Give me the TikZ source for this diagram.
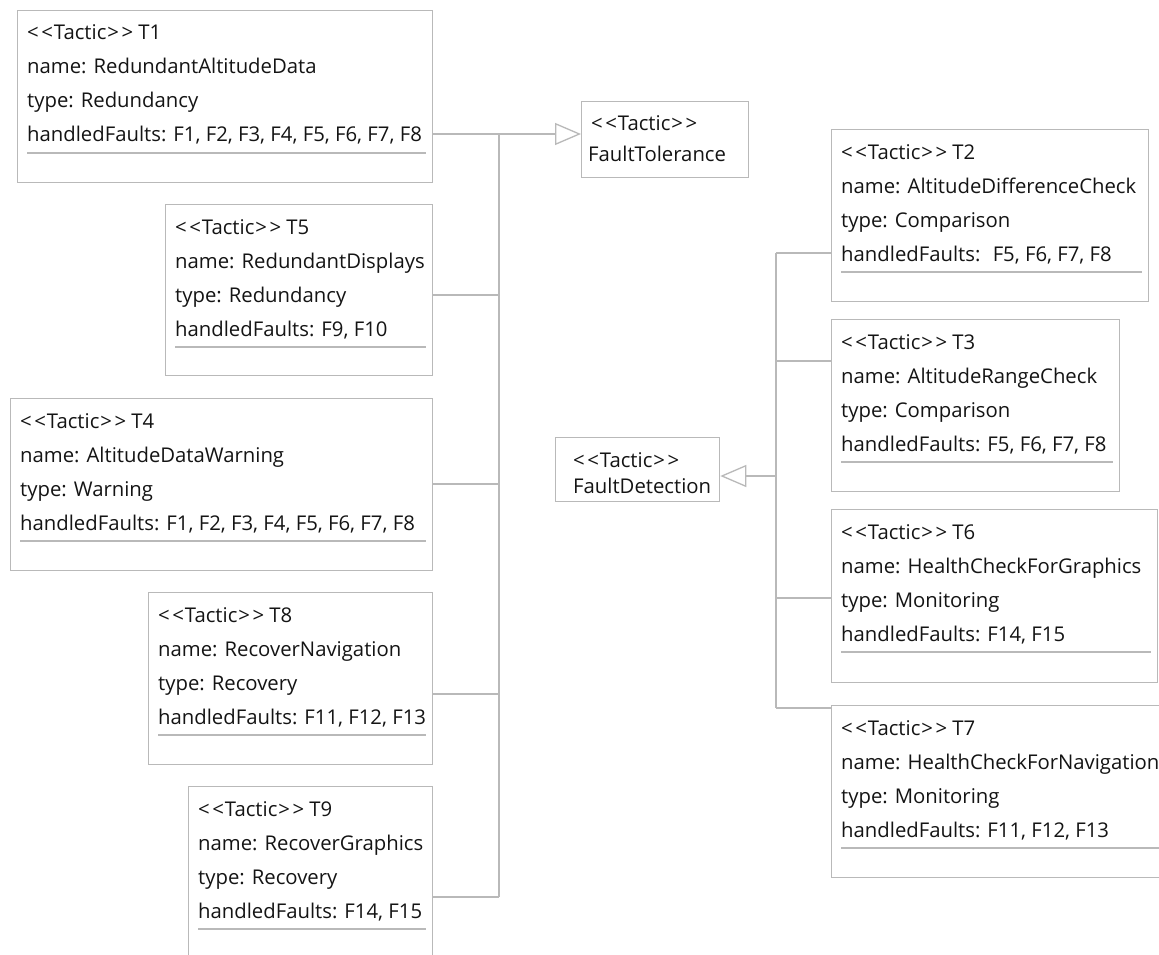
\documentclass[tikz,border=0pt]{standalone}
\usepackage{fontspec}
\setmainfont{Open Sans}
\usetikzlibrary{arrows.meta,calc}
\definecolor{edge}{RGB}{185,185,185}
\definecolor{ink}{RGB}{20,20,20}
\newcommand{\stereo}{<\kern2.5pt<\kern1pt Tactic\kern1pt>\kern2.5pt>}
\tikzset{
  box/.style={draw=edge, line width=1.3pt, rectangle, inner sep=0pt, anchor=north west, fill=white},
  txt/.style={anchor=base west, inner sep=0pt, text=ink, font=\fontsize{20.3}{22}\selectfont},
  conn/.style={draw=edge, line width=1.3pt},
  sepline/.style={draw=edge, line width=1.1pt},
  gen/.style={conn, -{Triangle[open, length=26pt, width=22pt]}},
}
% \tacbox{name}{x1}{y1}{x2}{y2}{line1}{line2}{line3}{line4}
\newcommand{\tacbox}[9]{%
  \node[box, minimum width=#4pt-#2pt, minimum height=#5pt-#3pt] (#1) at (#2,#3) {};
  \node[txt] (#1a) at ($(#1.north west)+(10,30)$) {#6};
  \node[txt] (#1b) at ($(#1.north west)+(10,64)$) {#7};
  \node[txt] (#1c) at ($(#1.north west)+(10,98)$) {#8};
  \node[txt] (#1d) at ($(#1.north west)+(10,132)$) {#9};
  \draw[sepline] ($(#1.north west)+(10,143)$) -- ($(#1.north east)+(-7,143)$);
}
\begin{document}
\begin{tikzpicture}[x=1pt, y=-1pt]
\useasboundingbox (0,0) rectangle (1159,955);
\fill[white] (0,0) rectangle (1159,955);

% left column
\tacbox{T1}{17}{10}{432}{182}{\stereo{} T1}{name: RedundantAltitudeData}{type: Redundancy}{handledFaults: F1, F2, F3, F4, F5, F6, F7, F8}
\tacbox{T5}{165}{204}{432}{375}{\stereo{} T5}{name: RedundantDisplays}{type: Redundancy}{handledFaults: F9, F10}
\tacbox{T4}{10}{398}{432}{570}{\stereo{} T4}{name: AltitudeDataWarning}{type: Warning}{handledFaults: F1, F2, F3, F4, F5, F6, F7, F8}
\tacbox{T8}{148}{592}{432}{764}{\stereo{} T8}{name: RecoverNavigation}{type: Recovery}{handledFaults: F11, F12, F13}
\tacbox{T9}{188}{786}{432}{958}{\stereo{} T9}{name: RecoverGraphics}{type: Recovery}{handledFaults: F14, F15}

% right column
\tacbox{T2}{831}{129}{1148}{301}{\stereo{} T2}{name: AltitudeDifferenceCheck}{type: Comparison}{handledFaults: \ F5, F6, F7, F8}
\tacbox{T3}{831}{319}{1119}{491}{\stereo{} T3}{name: AltitudeRangeCheck}{type: Comparison}{handledFaults: F5, F6, F7, F8}
\tacbox{T6}{831}{509}{1157}{682}{\stereo{} T6}{name: HealthCheckForGraphics}{type: Monitoring}{handledFaults: F14, F15}
\tacbox{T7}{831}{705}{1185}{877}{\stereo{} T7}{name: HealthCheckForNavigation}{type: Monitoring}{handledFaults: F11, F12, F13}

% parent tactics
\node[box, minimum width=167pt, minimum height=76pt] (FT) at (581,101) {};
\node[txt] (FTa) at ($(FT.north west)+(10,30)$) {\stereo};
\node[txt] (FTb) at ($(FT.north west)+(7,60)$) {FaultTolerance};

\node[box, minimum width=164pt, minimum height=64pt] (FD) at (555,437) {};
\node[txt] (FDa) at ($(FD.north west)+(18,30)$) {\stereo};
\node[txt] (FDb) at ($(FD.north west)+(18,56)$) {FaultDetection};

% bus coordinates
\coordinate (busL) at (499,0);
\coordinate (busR) at (776,0);

% generalisations to FaultTolerance
\path (T1.north east) ++(0,124) coordinate (t1c);
\path (T5.north east) ++(0,91) coordinate (t5c);
\path (T4.north east) ++(0,86) coordinate (t4c);
\path (T8.north east) ++(0,102) coordinate (t8c);
\path (T9.north east) ++(0,111) coordinate (t9c);
\draw[gen] (t1c) -- (t1c -| FT.west);
\draw[conn] (t5c) -- (t5c -| busL);
\draw[conn] (t4c) -- (t4c -| busL);
\draw[conn] (t8c) -- (t8c -| busL);
\draw[conn] (t9c) -- (t9c -| busL);
\draw[conn] (t1c -| busL) -- (t9c -| busL);

% generalisations to FaultDetection
\path (T2.north west) ++(0,124) coordinate (t2c);
\path (T3.north west) ++(0,42) coordinate (t3c);
\path (T6.north west) ++(0,89) coordinate (t6c);
\path (T7.north west) ++(0,3) coordinate (t7c);
\path (FD.north east) ++(0,39) coordinate (fdc);
\draw[conn] (t2c) -- (t2c -| busR);
\draw[conn] (t3c) -- (t3c -| busR);
\draw[conn] (t6c) -- (t6c -| busR);
\draw[conn] (t7c) -- (t7c -| busR);
\draw[conn] (t2c -| busR) -- (t7c -| busR);
\draw[gen] (fdc -| busR) -- (fdc);
\end{tikzpicture}
\end{document}
